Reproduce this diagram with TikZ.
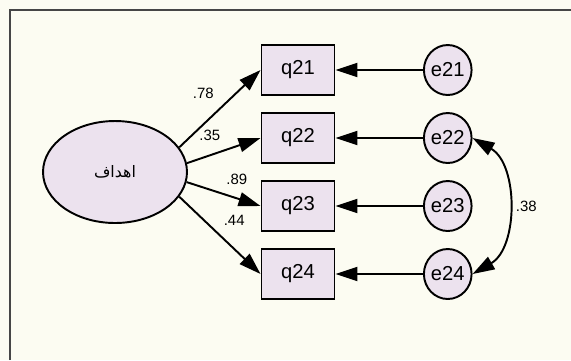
\documentclass[tikz,border=0pt]{standalone}
\usepackage{fontspec}
\setmainfont{Liberation Sans}
\newfontfamily\arabicfont[Script=Arabic]{DejaVu Sans}
\TeXXeTstate=1
\usetikzlibrary{positioning, shapes.geometric, arrows.meta}

\definecolor{paper}{RGB}{252,252,242}
\definecolor{lilac}{RGB}{236,226,238}
\definecolor{framegray}{RGB}{70,70,70}

\begin{document}
\begin{tikzpicture}[x=0.02cm, y=-0.02cm, line width=1.1pt,
item/.style={draw, fill=lilac, inner sep=0pt, font=\fontsize{11.5}{13}\selectfont},
obs/.style={item, minimum width=1.46cm, minimum height=1cm},
err/.style={item, ellipse, minimum width=0.88cm, minimum height=1cm},
arr/.style={-{Triangle[length=0.44cm, width=0.28cm]}},
wt/.style={font=\fontsize{8.5}{10}\selectfont, inner sep=1pt}]

%background
\fill[paper] (0,0) rectangle (571,360);
\useasboundingbox (0,0) rectangle (571,360);
\draw[framegray, line width=0.6pt] (10,360) -- (10,10) -- (571,10);

%latent
\node[item, ellipse, minimum width=2.88cm, minimum height=2.04cm] (ahdaf) at (115,172)
	{\arabicfont\fontsize{9}{11}\selectfont\beginR اهداف\endR};

%indicators and errors
\foreach \i/\y in {21/70, 22/138, 23/206, 24/274}
{
	\node[obs] (q\i) at (298,\y) {q\i};
	\node[err, right=1.75cm of q\i] (e\i) {e\i};
	\draw[arr] (e\i) -- (q\i);
}

%loadings
\draw[arr] (ahdaf.21) -- node[wt, pos=0.5, above left=4pt and 2pt] (w21) {.78} (q21.west);
\draw[arr] (ahdaf.7) -- node[wt, pos=0.5, above left=4pt and 0.5pt] (w22) {.35} (q22.west);
\draw[arr] (ahdaf.-8) -- node[wt, pos=0.68, above=6.5pt] (w23) {.89} (q23.west);
\draw[arr] (ahdaf.-21) -- node[wt, pos=0.45, above right=2pt and 3pt] (w24) {.44} (q24.west);

%covariance
\draw[{Triangle[length=0.44cm, width=0.28cm]}-{Triangle[length=0.44cm, width=0.28cm]}]
	(e22.east) to[bend left=60] node[wt, right=3.5pt] (c24) {.38} (e24.east);
\end{tikzpicture}
\end{document}
